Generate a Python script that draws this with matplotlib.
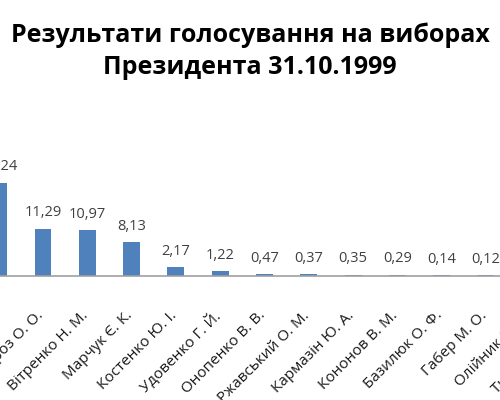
import matplotlib.pyplot as plt
from matplotlib.transforms import ScaledTranslation

plt.rcParams['font.family'] = ['Open Sans', 'DejaVu Sans']

# Результати першого туру, %
candidates = ["Кучма Л. Д.", "Симоненко П. М.", "Мороз О. О.", "Вітренко Н. М.",
              "Марчук Є. К.", "Костенко Ю. І.", "Удовенко Г. Й.", "Онопенко В. В.",
              "Ржавський О. М.", "Кармазін Ю. А.", "Кононов В. М.", "Базилюк О. Ф.",
              "Габер М. О.", "Олійник В. М.", "Ткаченко О. М."]
percent = [36.49, 22.24, 11.29, 10.97, 8.13, 2.17, 1.22, 0.47,
           0.37, 0.35, 0.29, 0.14, 0.12, 0.10, 0.08]

fig = plt.figure(figsize=(5, 4), dpi=100)
# the original picture is cut off on both sides, so the axes stick out of the figure
ax = fig.add_axes([-0.1355, 0.31, 1.329, 0.42])

x = list(range(len(candidates)))
bars = ax.bar(x, percent, width=0.38, color="#4f81bd")

for xi, v in zip(x, percent):
    ax.annotate(f"{v:.2f}".replace(".", ","), (xi, v), xytext=(0, 6),
                textcoords="offset points", ha="center", va="bottom",
                fontsize=10.5, color="#404040")

ax.set_xlim(-0.5, len(candidates) - 0.5)
ax.set_ylim(0, 40)
ax.set_xticks(x)
ax.set_xticklabels(candidates, rotation=45, ha="right", rotation_mode="anchor",
                   fontsize=11, color="#1a1a1a")
ax.tick_params(axis="x", length=0, pad=23)
# nudge the rotated names a little to the left
shift = ScaledTranslation(-5 / 72, 0, fig.dpi_scale_trans)
for lbl in ax.get_xticklabels():
    lbl.set_transform(lbl.get_transform() + shift)
ax.set_yticks([])
for s in ["top", "right", "left"]:
    ax.spines[s].set_visible(False)
ax.spines["bottom"].set_color("#a0a0a0")
ax.spines["bottom"].set_linewidth(1.2)

fig.text(0.5, 0.945, "Результати голосування на виборах\nПрезидента 31.10.1999",
         ha="center", va="top", fontsize=18, fontweight="bold", linespacing=1.4)

fig.savefig("out.png", dpi=100)
